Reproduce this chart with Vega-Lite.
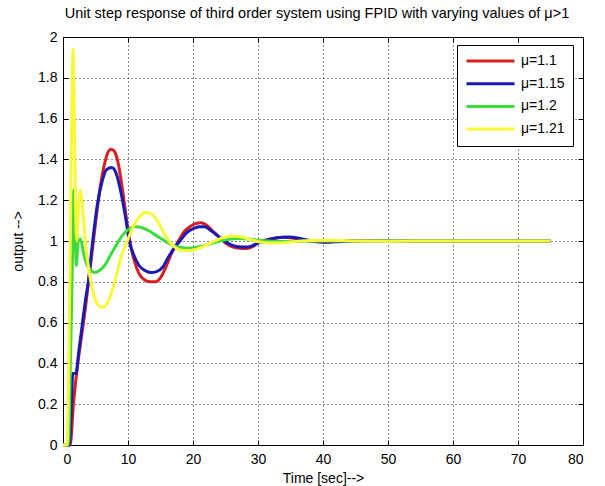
{
  "$schema": "https://vega.github.io/schema/vega-lite/v6.json",
  "width": 520,
  "height": 408,
  "autosize": {"type": "none"},
  "padding": {"left": 63, "top": 37, "right": 22, "bottom": 41},
  "background": "white",
  "title": {
    "text": "Unit step response of third order system using FPID with varying values of μ>1",
    "font": "Liberation Sans",
    "fontSize": 14.5,
    "fontWeight": "normal",
    "color": "black",
    "anchor": "middle",
    "offset": 9,
    "dx": -6
  },
  "config": {
    "view": {"stroke": "black", "strokeWidth": 1},
    "axis": {
      "labelFont": "Liberation Sans",
      "labelFontSize": 14,
      "labelColor": "black",
      "titleFont": "Liberation Sans",
      "titleFontSize": 14,
      "titleFontWeight": "normal",
      "titleColor": "black",
      "domainColor": "black",
      "tickColor": "black",
      "gridColor": "black",
      "gridDash": [1, 3],
      "gridOpacity": 0.9,
      "gridWidth": 1
    }
  },
  "data": {
    "values": [
      {"t": 0, "y": 0, "s": "μ=1.1"},
      {"t": 1.1, "y": 0, "s": "μ=1.1"},
      {"t": 1.6, "y": 0.2, "s": "μ=1.1"},
      {"t": 2.2, "y": 0.38, "s": "μ=1.1"},
      {"t": 2.8, "y": 0.52, "s": "μ=1.1"},
      {"t": 3.4, "y": 0.66, "s": "μ=1.1"},
      {"t": 4.0, "y": 0.82, "s": "μ=1.1"},
      {"t": 4.6, "y": 0.98, "s": "μ=1.1"},
      {"t": 5.2, "y": 1.14, "s": "μ=1.1"},
      {"t": 5.8, "y": 1.28, "s": "μ=1.1"},
      {"t": 6.4, "y": 1.38, "s": "μ=1.1"},
      {"t": 7.0, "y": 1.44, "s": "μ=1.1"},
      {"t": 7.4, "y": 1.45, "s": "μ=1.1"},
      {"t": 7.9, "y": 1.44, "s": "μ=1.1"},
      {"t": 8.5, "y": 1.38, "s": "μ=1.1"},
      {"t": 9.2, "y": 1.24, "s": "μ=1.1"},
      {"t": 9.8, "y": 1.1, "s": "μ=1.1"},
      {"t": 10.4, "y": 0.98, "s": "μ=1.1"},
      {"t": 11.0, "y": 0.9, "s": "μ=1.1"},
      {"t": 11.7, "y": 0.84, "s": "μ=1.1"},
      {"t": 12.5, "y": 0.81, "s": "μ=1.1"},
      {"t": 13.4, "y": 0.8, "s": "μ=1.1"},
      {"t": 14.3, "y": 0.8, "s": "μ=1.1"},
      {"t": 15.0, "y": 0.82, "s": "μ=1.1"},
      {"t": 15.8, "y": 0.87, "s": "μ=1.1"},
      {"t": 16.7, "y": 0.94, "s": "μ=1.1"},
      {"t": 17.6, "y": 0.99, "s": "μ=1.1"},
      {"t": 18.5, "y": 1.04, "s": "μ=1.1"},
      {"t": 19.5, "y": 1.07, "s": "μ=1.1"},
      {"t": 20.4, "y": 1.085, "s": "μ=1.1"},
      {"t": 21.2, "y": 1.09, "s": "μ=1.1"},
      {"t": 22.0, "y": 1.08, "s": "μ=1.1"},
      {"t": 23.0, "y": 1.05, "s": "μ=1.1"},
      {"t": 24.0, "y": 1.02, "s": "μ=1.1"},
      {"t": 25.0, "y": 0.99, "s": "μ=1.1"},
      {"t": 26.2, "y": 0.97, "s": "μ=1.1"},
      {"t": 27.2, "y": 0.964, "s": "μ=1.1"},
      {"t": 28.1, "y": 0.963, "s": "μ=1.1"},
      {"t": 29.0, "y": 0.97, "s": "μ=1.1"},
      {"t": 30.0, "y": 0.99, "s": "μ=1.1"},
      {"t": 31.2, "y": 1.005, "s": "μ=1.1"},
      {"t": 32.5, "y": 1.014, "s": "μ=1.1"},
      {"t": 34.0, "y": 1.018, "s": "μ=1.1"},
      {"t": 35.5, "y": 1.014, "s": "μ=1.1"},
      {"t": 37.0, "y": 1.005, "s": "μ=1.1"},
      {"t": 38.5, "y": 0.997, "s": "μ=1.1"},
      {"t": 40.0, "y": 0.994, "s": "μ=1.1"},
      {"t": 42.0, "y": 0.996, "s": "μ=1.1"},
      {"t": 44.0, "y": 1.0, "s": "μ=1.1"},
      {"t": 47.0, "y": 1.003, "s": "μ=1.1"},
      {"t": 50.0, "y": 1.002, "s": "μ=1.1"},
      {"t": 55.0, "y": 1.0, "s": "μ=1.1"},
      {"t": 60.0, "y": 1.0, "s": "μ=1.1"},
      {"t": 65.0, "y": 1.0, "s": "μ=1.1"},
      {"t": 70.0, "y": 1.0, "s": "μ=1.1"},
      {"t": 75.0, "y": 1.0, "s": "μ=1.1"},

      {"t": 0, "y": 0, "s": "μ=1.15"},
      {"t": 1.0, "y": 0, "s": "μ=1.15"},
      {"t": 1.3, "y": 0.2, "s": "μ=1.15"},
      {"t": 1.5, "y": 0.35, "s": "μ=1.15"},
      {"t": 2.0, "y": 0.35, "s": "μ=1.15"},
      {"t": 2.4, "y": 0.45, "s": "μ=1.15"},
      {"t": 3.0, "y": 0.6, "s": "μ=1.15"},
      {"t": 3.5, "y": 0.72, "s": "μ=1.15"},
      {"t": 3.9, "y": 0.8, "s": "μ=1.15"},
      {"t": 4.5, "y": 0.98, "s": "μ=1.15"},
      {"t": 5.3, "y": 1.18, "s": "μ=1.15"},
      {"t": 6.0, "y": 1.29, "s": "μ=1.15"},
      {"t": 6.7, "y": 1.35, "s": "μ=1.15"},
      {"t": 7.5, "y": 1.36, "s": "μ=1.15"},
      {"t": 8.2, "y": 1.33, "s": "μ=1.15"},
      {"t": 8.9, "y": 1.24, "s": "μ=1.15"},
      {"t": 9.6, "y": 1.12, "s": "μ=1.15"},
      {"t": 10.2, "y": 1.0, "s": "μ=1.15"},
      {"t": 10.9, "y": 0.93, "s": "μ=1.15"},
      {"t": 11.7, "y": 0.88, "s": "μ=1.15"},
      {"t": 12.6, "y": 0.855, "s": "μ=1.15"},
      {"t": 13.5, "y": 0.845, "s": "μ=1.15"},
      {"t": 14.4, "y": 0.85, "s": "μ=1.15"},
      {"t": 15.3, "y": 0.87, "s": "μ=1.15"},
      {"t": 16.2, "y": 0.92, "s": "μ=1.15"},
      {"t": 17.1, "y": 0.965, "s": "μ=1.15"},
      {"t": 18.0, "y": 1.0, "s": "μ=1.15"},
      {"t": 19.0, "y": 1.04, "s": "μ=1.15"},
      {"t": 20.0, "y": 1.06, "s": "μ=1.15"},
      {"t": 21.0, "y": 1.07, "s": "μ=1.15"},
      {"t": 21.8, "y": 1.07, "s": "μ=1.15"},
      {"t": 22.8, "y": 1.05, "s": "μ=1.15"},
      {"t": 23.8, "y": 1.025, "s": "μ=1.15"},
      {"t": 24.8, "y": 1.0, "s": "μ=1.15"},
      {"t": 26.0, "y": 0.98, "s": "μ=1.15"},
      {"t": 27.0, "y": 0.972, "s": "μ=1.15"},
      {"t": 28.0, "y": 0.97, "s": "μ=1.15"},
      {"t": 29.0, "y": 0.975, "s": "μ=1.15"},
      {"t": 30.0, "y": 0.99, "s": "μ=1.15"},
      {"t": 31.5, "y": 1.005, "s": "μ=1.15"},
      {"t": 33.0, "y": 1.016, "s": "μ=1.15"},
      {"t": 34.8, "y": 1.02, "s": "μ=1.15"},
      {"t": 36.5, "y": 1.012, "s": "μ=1.15"},
      {"t": 38.0, "y": 1.002, "s": "μ=1.15"},
      {"t": 40.0, "y": 0.995, "s": "μ=1.15"},
      {"t": 42.0, "y": 0.997, "s": "μ=1.15"},
      {"t": 45.0, "y": 1.0, "s": "μ=1.15"},
      {"t": 50.0, "y": 1.002, "s": "μ=1.15"},
      {"t": 55.0, "y": 1.0, "s": "μ=1.15"},
      {"t": 60.0, "y": 1.0, "s": "μ=1.15"},
      {"t": 65.0, "y": 1.0, "s": "μ=1.15"},
      {"t": 70.0, "y": 1.0, "s": "μ=1.15"},
      {"t": 75.0, "y": 1.0, "s": "μ=1.15"},

      {"t": 0, "y": 0, "s": "μ=1.2"},
      {"t": 0.8, "y": 0, "s": "μ=1.2"},
      {"t": 1.2, "y": 0.5, "s": "μ=1.2"},
      {"t": 1.45, "y": 0.9, "s": "μ=1.2"},
      {"t": 1.65, "y": 1.25, "s": "μ=1.2"},
      {"t": 1.85, "y": 1.05, "s": "μ=1.2"},
      {"t": 2.05, "y": 0.88, "s": "μ=1.2"},
      {"t": 2.35, "y": 1.0, "s": "μ=1.2"},
      {"t": 2.7, "y": 1.01, "s": "μ=1.2"},
      {"t": 3.1, "y": 0.95, "s": "μ=1.2"},
      {"t": 3.6, "y": 0.89, "s": "μ=1.2"},
      {"t": 4.2, "y": 0.86, "s": "μ=1.2"},
      {"t": 4.9, "y": 0.845, "s": "μ=1.2"},
      {"t": 5.6, "y": 0.855, "s": "μ=1.2"},
      {"t": 6.4, "y": 0.88, "s": "μ=1.2"},
      {"t": 7.3, "y": 0.93, "s": "μ=1.2"},
      {"t": 8.2, "y": 0.98, "s": "μ=1.2"},
      {"t": 9.2, "y": 1.03, "s": "μ=1.2"},
      {"t": 10.2, "y": 1.06, "s": "μ=1.2"},
      {"t": 11.2, "y": 1.07, "s": "μ=1.2"},
      {"t": 12.2, "y": 1.065, "s": "μ=1.2"},
      {"t": 13.2, "y": 1.05, "s": "μ=1.2"},
      {"t": 14.2, "y": 1.03, "s": "μ=1.2"},
      {"t": 15.2, "y": 1.01, "s": "μ=1.2"},
      {"t": 16.2, "y": 0.99, "s": "μ=1.2"},
      {"t": 17.2, "y": 0.975, "s": "μ=1.2"},
      {"t": 18.2, "y": 0.968, "s": "μ=1.2"},
      {"t": 19.3, "y": 0.965, "s": "μ=1.2"},
      {"t": 20.3, "y": 0.968, "s": "μ=1.2"},
      {"t": 21.3, "y": 0.975, "s": "μ=1.2"},
      {"t": 22.5, "y": 0.985, "s": "μ=1.2"},
      {"t": 24.0, "y": 0.998, "s": "μ=1.2"},
      {"t": 25.5, "y": 1.008, "s": "μ=1.2"},
      {"t": 27.0, "y": 1.012, "s": "μ=1.2"},
      {"t": 28.5, "y": 1.01, "s": "μ=1.2"},
      {"t": 30.0, "y": 1.004, "s": "μ=1.2"},
      {"t": 32.0, "y": 0.999, "s": "μ=1.2"},
      {"t": 34.0, "y": 0.997, "s": "μ=1.2"},
      {"t": 37.0, "y": 0.999, "s": "μ=1.2"},
      {"t": 40.0, "y": 1.0, "s": "μ=1.2"},
      {"t": 45.0, "y": 1.0, "s": "μ=1.2"},
      {"t": 50.0, "y": 1.0, "s": "μ=1.2"},
      {"t": 55.0, "y": 1.0, "s": "μ=1.2"},
      {"t": 60.0, "y": 1.0, "s": "μ=1.2"},
      {"t": 65.0, "y": 1.0, "s": "μ=1.2"},
      {"t": 70.0, "y": 1.0, "s": "μ=1.2"},
      {"t": 75.0, "y": 1.0, "s": "μ=1.2"},

      {"t": 0, "y": 0, "s": "μ=1.21"},
      {"t": 0.6, "y": 0, "s": "μ=1.21"},
      {"t": 0.9, "y": 0.4, "s": "μ=1.21"},
      {"t": 1.15, "y": 1.1, "s": "μ=1.21"},
      {"t": 1.4, "y": 1.75, "s": "μ=1.21"},
      {"t": 1.55, "y": 1.94, "s": "μ=1.21"},
      {"t": 1.75, "y": 1.6, "s": "μ=1.21"},
      {"t": 1.95, "y": 1.15, "s": "μ=1.21"},
      {"t": 2.15, "y": 1.0, "s": "μ=1.21"},
      {"t": 2.45, "y": 1.2, "s": "μ=1.21"},
      {"t": 2.65, "y": 1.25, "s": "μ=1.21"},
      {"t": 2.9, "y": 1.2, "s": "μ=1.21"},
      {"t": 3.3, "y": 1.05, "s": "μ=1.21"},
      {"t": 3.8, "y": 0.9, "s": "μ=1.21"},
      {"t": 4.4, "y": 0.78, "s": "μ=1.21"},
      {"t": 5.0, "y": 0.71, "s": "μ=1.21"},
      {"t": 5.6, "y": 0.68, "s": "μ=1.21"},
      {"t": 6.1, "y": 0.675, "s": "μ=1.21"},
      {"t": 6.7, "y": 0.69, "s": "μ=1.21"},
      {"t": 7.4, "y": 0.74, "s": "μ=1.21"},
      {"t": 8.2, "y": 0.83, "s": "μ=1.21"},
      {"t": 9.0, "y": 0.93, "s": "μ=1.21"},
      {"t": 9.9, "y": 1.0, "s": "μ=1.21"},
      {"t": 10.8, "y": 1.07, "s": "μ=1.21"},
      {"t": 11.8, "y": 1.12, "s": "μ=1.21"},
      {"t": 12.8, "y": 1.14, "s": "μ=1.21"},
      {"t": 13.5, "y": 1.135, "s": "μ=1.21"},
      {"t": 14.5, "y": 1.1, "s": "μ=1.21"},
      {"t": 15.5, "y": 1.04, "s": "μ=1.21"},
      {"t": 16.3, "y": 1.0, "s": "μ=1.21"},
      {"t": 17.2, "y": 0.97, "s": "μ=1.21"},
      {"t": 18.2, "y": 0.955, "s": "μ=1.21"},
      {"t": 19.5, "y": 0.953, "s": "μ=1.21"},
      {"t": 20.5, "y": 0.96, "s": "μ=1.21"},
      {"t": 21.7, "y": 0.975, "s": "μ=1.21"},
      {"t": 23.0, "y": 0.995, "s": "μ=1.21"},
      {"t": 24.5, "y": 1.015, "s": "μ=1.21"},
      {"t": 26.0, "y": 1.025, "s": "μ=1.21"},
      {"t": 27.5, "y": 1.02, "s": "μ=1.21"},
      {"t": 29.0, "y": 1.005, "s": "μ=1.21"},
      {"t": 31.0, "y": 0.992, "s": "μ=1.21"},
      {"t": 33.0, "y": 0.99, "s": "μ=1.21"},
      {"t": 35.0, "y": 0.995, "s": "μ=1.21"},
      {"t": 38.0, "y": 1.002, "s": "μ=1.21"},
      {"t": 41.0, "y": 1.004, "s": "μ=1.21"},
      {"t": 45.0, "y": 1.0, "s": "μ=1.21"},
      {"t": 50.0, "y": 1.0, "s": "μ=1.21"},
      {"t": 55.0, "y": 1.0, "s": "μ=1.21"},
      {"t": 60.0, "y": 1.0, "s": "μ=1.21"},
      {"t": 65.0, "y": 1.0, "s": "μ=1.21"},
      {"t": 70.0, "y": 1.0, "s": "μ=1.21"},
      {"t": 75.0, "y": 1.0, "s": "μ=1.21"}
    ]
  },
  "layer": [
    {
      "mark": {"type": "point", "opacity": 0},
      "encoding": {
        "x": {"field": "t", "type": "quantitative", "scale": {"domain": [0, 80], "nice": false},
              "axis": {"orient": "top", "values": [0,10,20,30,40,50,60,70,80], "labels": false, "grid": false, "domain": false, "tickSize": -5, "title": null}},
        "y": {"field": "y", "type": "quantitative", "scale": {"domain": [0, 2], "nice": false},
              "axis": {"orient": "right", "values": [0,0.2,0.4,0.6,0.8,1,1.2,1.4,1.6,1.8,2], "labels": false, "grid": false, "domain": false, "tickSize": -5, "title": null}}
      }
    },
    {
      "mark": {"type": "line", "strokeWidth": 3, "interpolate": "monotone"},
      "encoding": {
        "x": {"field": "t", "type": "quantitative", "scale": {"domain": [0, 80], "nice": false},
              "axis": {"values": [0,10,20,30,40,50,60,70,80], "title": "Time [sec]-->", "tickSize": -5, "labelPadding": 12, "titlePadding": 5, "grid": true}},
        "y": {"field": "y", "type": "quantitative", "scale": {"domain": [0, 2], "nice": false},
              "axis": {"values": [0,0.2,0.4,0.6,0.8,1,1.2,1.4,1.6,1.8,2], "format": "~g", "title": "output -->", "tickSize": -5, "labelPadding": 11, "titlePadding": 12, "grid": true}},
        "color": {
          "field": "s", "type": "nominal",
          "scale": {"domain": ["μ=1.1", "μ=1.15", "μ=1.2", "μ=1.21"], "range": ["#d81e1e", "#1a1ab4", "#3ddc3d", "#f8f83a"]},
          "legend": {
            "title": null,
            "orient": "none",
            "legendX": 394,
            "legendY": 8,
            "padding": 8,
            "strokeColor": "black",
            "fillColor": "white",
            "symbolType": "stroke",
            "symbolSize": 2304,
            "symbolStrokeWidth": 3,
            "clipHeight": 16,
            "rowPadding": 6.7,
            "labelFont": "Liberation Sans",
            "labelFontSize": 14,
            "labelColor": "black",
            "labelOffset": 5
          }
        }
      }
    }
  ],
  "resolve": {"axis": {"x": "independent", "y": "independent"}}
}
